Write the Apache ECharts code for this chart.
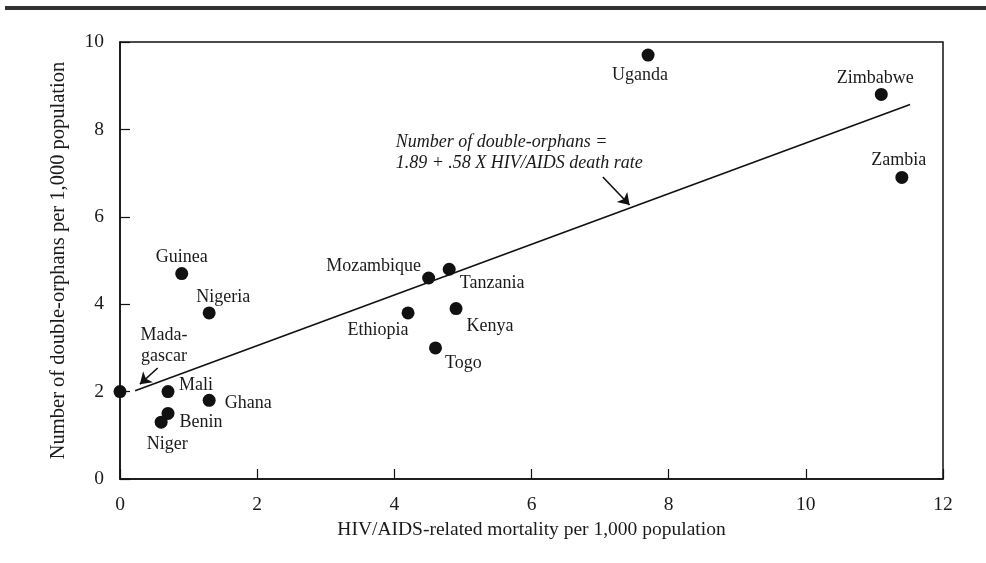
<!DOCTYPE html>
<html>
<head>
<meta charset="utf-8">
<script src="https://cdn.jsdelivr.net/npm/echarts@6/dist/echarts.min.js"></script>
<style>
html,body{margin:0;padding:0;background:#fff;}
#chart{width:986px;height:563px;}
</style>
</head>
<body>
<div id="chart"></div>
<script>
// ---- data ----
var countries = ['Madagascar','Niger','Benin','Mali','Guinea','Nigeria','Ghana','Ethiopia','Mozambique','Tanzania','Kenya','Togo','Uganda','Zimbabwe','Zambia'];
var mortality = [0.0, 0.6, 0.7, 0.7, 0.9, 1.3, 1.3, 4.2, 4.5, 4.8, 4.9, 4.6, 7.7, 11.1, 11.4];
var orphans   = [2.0, 1.3, 1.5, 2.0, 4.7, 3.8, 1.8, 3.8, 4.6, 4.8, 3.9, 3.0, 9.7, 8.8, 6.9];
var displayNames = ['Mada-\ngascar','Niger','Benin','Mali','Guinea','Nigeria','Ghana','Ethiopia','Mozambique','Tanzania','Kenya','Togo','Uganda','Zimbabwe','Zambia'];

// fitted line end points (as drawn)
var fitX = [0.22, 11.52];
var fitY = [2.02, 8.57];

var xTicks = [0, 2, 4, 6, 8, 10, 12];
var yTicks = [0, 2, 4, 6, 8, 10];

var equationText = ['Number of double-orphans =', '1.89 + .58 X HIV/AIDS death rate'];
var equationAnchor = [4.02, 7.47];

// arrows: [fromX, fromY, toX, toY]
var arrowMadagascar = [0.55, 2.54, 0.29, 2.17];
var arrowEquation   = [7.04, 6.91, 7.43, 6.27];

// ---- label placement (styling, not data) ----
var labelOffsets = {
  'Madagascar':[44,-46], 'Niger':[6,22], 'Benin':[33,9], 'Mali':[28,-6],
  'Guinea':[0,-16], 'Nigeria':[14,-16], 'Ghana':[39,3], 'Ethiopia':[-30,17],
  'Mozambique':[-55,-12], 'Tanzania':[43,14], 'Kenya':[34,18], 'Togo':[28,15],
  'Uganda':[-8,20], 'Zimbabwe':[-6,-16], 'Zambia':[-3,-17]
};

var FONT = '"Liberation Serif","Times New Roman",serif';
var TEXT = '#1a1a1a';

var pointData = countries.map(function(c, i){
  return {
    value: [mortality[i], orphans[i]],
    name: c,
    label: {
      show: true,
      formatter: displayNames[i],
      position: 'inside',
      offset: labelOffsets[c],
      align: 'center',
      verticalAlign: 'middle',
      color: TEXT,
      fontFamily: FONT,
      fontSize: 18,
      lineHeight: 21
    }
  };
});

var chart = echarts.init(document.getElementById('chart'), null, {renderer:'canvas'});

chart.setOption({
  animation: false,
  backgroundColor: '#fff',
  graphic: [{
    type: 'rect',
    shape: {x: 5, y: 6, width: 981, height: 4},
    style: {fill: '#333'}
  }],
  grid: {
    left: 120, right: 43, top: 42, bottom: 84,
    show: true, borderColor: '#111', borderWidth: 1.5, backgroundColor: 'transparent'
  },
  xAxis: {
    type: 'value', min: xTicks[0], max: xTicks[xTicks.length-1], interval: 2,
    name: 'HIV/AIDS-related mortality per 1,000 population',
    nameLocation: 'middle', nameGap: 39,
    nameTextStyle: {fontFamily: FONT, fontSize: 19.5, color: TEXT},
    axisLine: {show: true, lineStyle: {color: '#111', width: 1.5}},
    axisTick: {show: true, inside: true, length: 10, lineStyle: {color: '#111', width: 1.2}},
    axisLabel: {fontFamily: FONT, fontSize: 19.5, color: TEXT, margin: 16},
    splitLine: {show: false}
  },
  yAxis: {
    type: 'value', min: yTicks[0], max: yTicks[yTicks.length-1], interval: 2,
    name: 'Number of double-orphans per 1,000 population',
    nameLocation: 'middle', nameGap: 51,
    nameTextStyle: {fontFamily: FONT, fontSize: 20.5, color: TEXT},
    axisLine: {show: true, lineStyle: {color: '#111', width: 1.5}},
    axisTick: {show: true, inside: true, length: 10, lineStyle: {color: '#111', width: 1.2}},
    axisLabel: {fontFamily: FONT, fontSize: 19.5, color: TEXT, margin: 16},
    splitLine: {show: false}
  },
  series: [
    {
      type: 'line',
      data: fitX.map(function(x, i){ return [x, fitY[i]]; }),
      symbol: 'none',
      lineStyle: {color: '#111', width: 1.6},
      silent: true,
      z: 2
    },
    {
      type: 'lines',
      coordinateSystem: 'cartesian2d',
      symbol: ['none', 'arrow'],
      symbolSize: 11,
      lineStyle: {color: '#111', width: 1.6, opacity: 1, curveness: 0},
      data: [
        {coords: [[arrowMadagascar[0], arrowMadagascar[1]], [arrowMadagascar[2], arrowMadagascar[3]]]},
        {coords: [[arrowEquation[0], arrowEquation[1]], [arrowEquation[2], arrowEquation[3]]]}
      ],
      z: 3
    },
    {
      type: 'scatter',
      data: [equationAnchor],
      symbol: 'circle',
      symbolSize: 1,
      itemStyle: {color: 'rgba(0,0,0,0)', opacity: 1},
      label: {
        show: true,
        position: 'inside',
        align: 'left',
        verticalAlign: 'middle',
        formatter: equationText.join('\n'),
        fontFamily: FONT,
        fontStyle: 'italic',
        fontSize: 18,
        lineHeight: 21,
        color: TEXT
      },
      silent: true,
      z: 3
    },
    {
      type: 'scatter',
      data: pointData,
      symbol: 'circle',
      symbolSize: 13,
      clip: false,
      itemStyle: {color: '#111', opacity: 1},
      z: 5
    }
  ]
});
</script>
</body>
</html>
